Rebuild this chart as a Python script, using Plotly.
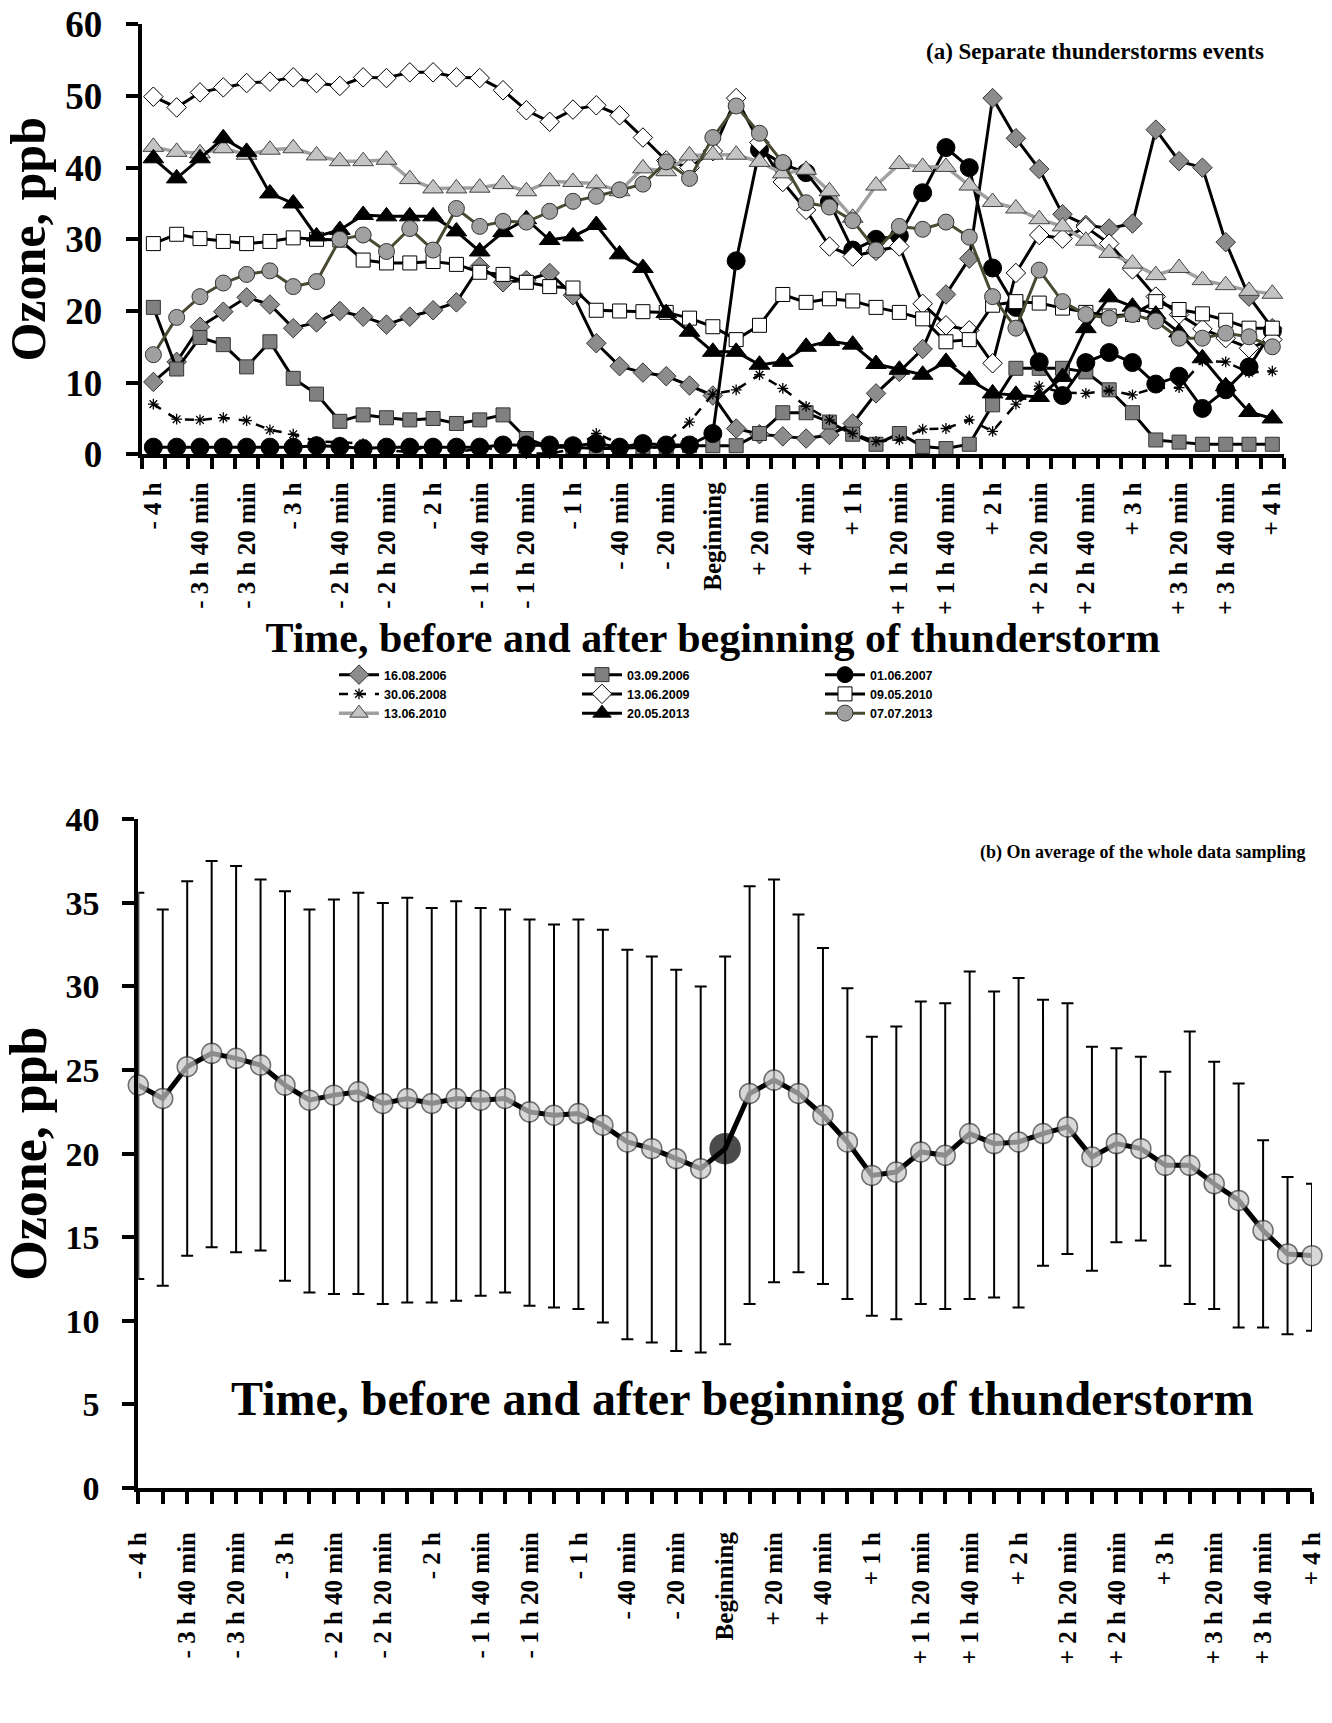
import plotly.graph_objects as go

# ---------------- data ----------------
minutes = [-240, -230, -220, -210, -200, -190, -180, -170, -160, -150, -140, -130, -120,
           -110, -100, -90, -80, -70, -60, -50, -40, -30, -20, -10, 0,
           10, 20, 30, 40, 50, 60, 70, 80, 90, 100, 110, 120, 130, 140, 150, 160,
           170, 180, 190, 200, 210, 220, 230, 240]

tick_minutes = [-240, -220, -200, -180, -160, -140, -120, -100, -80, -60, -40, -20, 0,
                20, 40, 60, 80, 100, 120, 140, 160, 180, 200, 220, 240]
tick_labels = ["- 4 h", "- 3 h 40 min", "- 3 h 20 min", "- 3 h", "- 2 h 40 min", "- 2 h 20 min",
               "- 2 h", "- 1 h 40 min", "- 1 h 20 min", "- 1 h", "- 40 min", "- 20 min",
               "Beginning", "+ 20 min", "+ 40 min", "+ 1 h", "+ 1 h 20 min", "+ 1 h 40 min",
               "+ 2 h", "+ 2 h 20 min", "+ 2 h 40 min", "+ 3 h", "+ 3 h 20 min", "+ 3 h 40 min",
               "+ 4 h"]

o3_16_08_2006 = [10.1, 12.9, 17.8, 19.9, 21.9, 20.9, 17.6, 18.4, 20.0, 19.2, 18.1, 19.2, 20.1,
                 21.2, 26.2, 24.0, 24.3, 25.3, 22.2, 15.5, 12.3, 11.4, 10.9, 9.6, 8.2,
                 3.6, 2.8, 2.5, 2.2, 2.7, 4.3, 8.5, 11.5, 14.7, 22.3, 27.3, 49.7, 44.1, 39.8,
                 33.5, 32.0, 31.5, 32.2, 45.3, 40.9, 40.0, 29.6, 22.0, 17.6]
o3_03_09_2006 = [20.5, 11.9, 16.3, 15.3, 12.2, 15.7, 10.6, 8.4, 4.6, 5.5, 5.1, 4.8, 5.0,
                 4.3, 4.8, 5.5, 2.2, 1.0, 1.0, 0.8, 0.8, 1.0, 1.0, 1.2, 1.2,
                 1.2, 2.9, 5.8, 5.8, 4.5, 2.8, 1.4, 2.9, 1.1, 0.8, 1.4, 6.9, 12.0, 12.0,
                 12.0, 11.5, 9.0, 5.8, 2.0, 1.7, 1.4, 1.4, 1.4, 1.4]
o3_01_06_2007 = [1.0, 1.0, 1.0, 1.0, 1.0, 1.0, 1.0, 1.2, 1.1, 0.8, 1.0, 1.0, 1.0,
                 1.0, 1.0, 1.3, 1.3, 1.3, 1.2, 1.5, 1.0, 1.5, 1.3, 1.3, 2.9,
                 27.0, 42.5, 40.5, 39.3, 35.2, 28.5, 30.0, 30.5, 36.5, 42.8, 40.0, 26.0, 20.5, 12.9,
                 8.2, 12.8, 14.2, 12.8, 9.8, 10.9, 6.4, 9.0, 12.2, 17.2]
o3_30_06_2008 = [7.0, 4.9, 4.8, 5.1, 4.7, 3.4, 2.8, 1.8, 1.7, 1.5, 0.6, 0.3, 1.5,
                 0.3, 0.8, 0.8, 0.1, 0.1, 0.7, 2.9, 1.5, 0.4, 1.5, 4.5, 8.4,
                 9.0, 11.1, 9.2, 6.7, 4.8, 2.9, 1.8, 2.0, 3.5, 3.6, 4.8, 3.2, 7.0, 9.5,
                 8.6, 8.5, 8.9, 8.3, 9.3, 9.3, 13.0, 12.9, 11.4, 11.6]
o3_13_06_2009 = [49.9, 48.4, 50.5, 51.2, 51.8, 52.0, 52.6, 51.8, 51.4, 52.6, 52.5, 53.3, 53.3,
                 52.6, 52.5, 50.8, 48.0, 46.4, 48.1, 48.7, 47.3, 44.2, 41.0, 40.0, 42.3,
                 49.7, 43.5, 38.0, 34.1, 29.0, 27.6, 28.4, 29.0, 21.0, 18.0, 17.3, 12.7, 25.3, 30.6,
                 30.1, 31.7, 29.4, 25.8, 22.0, 19.5, 17.5, 16.2, 14.8, 16.0]
o3_09_05_2010 = [29.4, 30.7, 30.1, 29.7, 29.4, 29.7, 30.2, 30.0, 29.9, 27.1, 26.7, 26.7, 26.9,
                 26.5, 25.4, 25.1, 24.0, 23.4, 23.2, 20.1, 20.0, 19.9, 19.8, 19.0, 17.8,
                 16.0, 18.0, 22.3, 21.2, 21.7, 21.4, 20.5, 19.8, 18.9, 15.7, 16.0, 20.8, 21.3, 21.1,
                 20.4, 19.8, 19.3, 19.5, 21.3, 20.2, 19.6, 18.7, 17.6, 17.6]
o3_13_06_2010 = [42.9, 42.2, 42.0, 42.7, 41.8, 42.5, 42.7, 41.7, 40.9, 40.9, 41.1, 38.4, 37.1,
                 37.1, 37.2, 37.7, 36.7, 38.1, 38.0, 37.8, 36.7, 39.9, 39.5, 41.7, 41.8,
                 41.8, 40.8, 39.2, 39.7, 36.7, 33.0, 37.5, 40.5, 40.1, 40.1, 37.5, 35.2, 34.3, 32.8,
                 31.8, 29.8, 28.1, 26.6, 25.0, 26.0, 24.3, 23.6, 22.8, 22.4]
o3_20_05_2013 = [41.3, 38.5, 41.3, 44.1, 42.2, 36.4, 35.0, 30.4, 31.3, 33.4, 33.2, 33.2, 33.2,
                 31.1, 28.3, 31.0, 32.8, 29.9, 30.4, 32.0, 27.9, 26.0, 19.7, 17.1, 14.3,
                 14.3, 12.5, 12.9, 15.0, 15.8, 15.3, 12.6, 11.8, 11.1, 12.9, 10.4, 8.5, 8.3, 8.0,
                 10.8, 17.6, 21.9, 20.6, 19.5, 17.0, 13.4, 9.5, 5.9, 5.0]
o3_07_07_2013 = [13.9, 19.1, 22.0, 23.9, 25.1, 25.6, 23.4, 24.1, 30.0, 30.6, 28.3, 31.5, 28.5,
                 34.3, 31.8, 32.5, 32.4, 33.9, 35.3, 36.0, 36.9, 37.7, 40.8, 38.5, 44.2,
                 48.6, 44.8, 40.7, 35.1, 34.5, 32.6, 28.5, 31.8, 31.4, 32.4, 30.3, 22.0, 17.6, 25.7,
                 21.3, 19.5, 19.0, 19.5, 18.6, 16.2, 16.2, 16.9, 16.4, 15.0]

avg_mean = [24.1, 23.3, 25.2, 26.0, 25.7, 25.3, 24.1, 23.2, 23.5, 23.7, 23.0, 23.3, 23.0,
            23.3, 23.2, 23.3, 22.5, 22.3, 22.4, 21.7, 20.7, 20.3, 19.7, 19.1, 20.3,
            23.6, 24.4, 23.6, 22.3, 20.7, 18.7, 18.9, 20.1, 19.9, 21.2, 20.6, 20.7, 21.2, 21.6,
            19.8, 20.6, 20.3, 19.3, 19.3, 18.2, 17.2, 15.4, 14.0, 13.9]
avg_upper = [35.6, 34.6, 36.3, 37.5, 37.2, 36.4, 35.7, 34.6, 35.2, 35.6, 35.0, 35.3, 34.7,
             35.1, 34.7, 34.6, 34.0, 33.7, 34.0, 33.4, 32.2, 31.8, 31.0, 30.0, 31.8,
             36.0, 36.4, 34.3, 32.3, 29.9, 27.0, 27.6, 29.1, 29.0, 30.9, 29.7, 30.5, 29.2, 29.0,
             26.4, 26.3, 25.8, 24.9, 27.3, 25.5, 24.2, 20.8, 18.6, 18.2]
avg_lower = [12.5, 12.1, 13.9, 14.4, 14.1, 14.2, 12.4, 11.7, 11.6, 11.6, 11.0, 11.1, 11.1,
             11.2, 11.5, 11.7, 10.9, 10.8, 10.7, 9.9, 8.9, 8.7, 8.2, 8.1, 8.6,
             11.0, 12.3, 12.9, 12.2, 11.3, 10.3, 10.1, 11.0, 10.7, 11.3, 11.4, 10.8, 13.3, 14.0,
             13.0, 14.7, 14.8, 13.3, 11.0, 10.7, 9.6, 9.6, 9.2, 9.4]

# ---------------- styles ----------------
SERIF = "Liberation Serif, Times New Roman, serif"
SANS = "Liberation Sans Narrow, Arial Narrow, Liberation Sans, Arial, sans-serif"

series = [
    ("16.08.2006", o3_16_08_2006, dict(symbol="diamond", size=15, color="#8c8c8c", line=dict(color="#333", width=1)), dict(color="black", width=3), "legend"),
    ("03.09.2006", o3_03_09_2006, dict(symbol="square", size=14, color="#808080", line=dict(color="#333", width=1)), dict(color="black", width=3), "legend2"),
    ("01.06.2007", o3_01_06_2007, dict(symbol="circle", size=18, color="black", line=dict(color="black", width=1)), dict(color="black", width=3), "legend3"),
    ("30.06.2008", o3_30_06_2008, dict(symbol="asterisk-open", size=9, color="black", line=dict(color="black", width=1.3)), dict(color="black", width=2.5, dash="dash"), "legend"),
    ("13.06.2009", o3_13_06_2009, dict(symbol="diamond", size=15, color="white", line=dict(color="black", width=1)), dict(color="black", width=3), "legend2"),
    ("09.05.2010", o3_09_05_2010, dict(symbol="square", size=14, color="white", line=dict(color="black", width=1)), dict(color="black", width=3), "legend3"),
    ("13.06.2010", o3_13_06_2010, dict(symbol="triangle-up", size=18, color="#c4c4c4", line=dict(color="#444", width=1)), dict(color="#a0a0a0", width=3.5), "legend"),
    ("20.05.2013", o3_20_05_2013, dict(symbol="triangle-up", size=18, color="black", line=dict(color="black", width=1)), dict(color="black", width=3), "legend2"),
    ("07.07.2013", o3_07_07_2013, dict(symbol="circle", size=16, color="#a0a0a0", line=dict(color="#333", width=1)), dict(color="#4a4a32", width=3), "legend3"),
]

fig = go.Figure()

for name, vals, mk, ln, lg in series:
    fig.add_trace(go.Scatter(
        x=minutes, y=vals, name=name, mode="lines+markers",
        marker=mk, line=ln, legend=lg, cliponaxis=False,
        xaxis="x", yaxis="y",
    ))

err_plus = [u - m for u, m in zip(avg_upper, avg_mean)]
err_minus = [m - l for m, l in zip(avg_mean, avg_lower)]
mk_colors = ["black" if t == 0 else "#c8c8c8" for t in minutes]
mk_lines = ["black" if t == 0 else "#333" for t in minutes]
mk_sizes = [30 if t == 0 else 20 for t in minutes]

fig.add_trace(go.Scatter(
    x=minutes, y=avg_mean, mode="lines+markers", showlegend=False,
    line=dict(color="black", width=5),
    marker=dict(color=mk_colors, size=mk_sizes, line=dict(color=mk_lines, width=1.5)),
    error_y=dict(type="data", symmetric=False, array=err_plus, arrayminus=err_minus,
                 color="black", thickness=2, width=6),
    cliponaxis=False, xaxis="x2", yaxis="y2",
))

W, H = 1332, 1723

def px(v):
    return v / W

def py(v):
    return 1 - v / H

top_bounds = [minutes[0] - 5 + 10 * k for k in range(len(minutes) + 1)]
lab = dict(zip(tick_minutes, tick_labels))
bot_ticktext = [lab.get(t, "") for t in minutes]

axis_common = dict(showline=True, linecolor="black", linewidth=4, showgrid=False,
                   zeroline=False, automargin=False)

fig.update_layout(
    width=W, height=H, margin=dict(l=0, r=0, t=0, b=0),
    paper_bgcolor="white", plot_bgcolor="white",
    xaxis=dict(domain=[px(141.7), px(1284)], anchor="y", range=[-245, 245],
               tickmode="array", tickvals=tick_minutes, ticktext=tick_labels,
               ticks="", tickangle=-90, ticklabelstandoff=14, ticklabeloverflow="allow",
               tickfont=dict(family=SERIF, size=25, color="black", weight="bold"),
               minor=dict(tickmode="array", tickvals=top_bounds, ticks="outside",
                          ticklen=11, tickwidth=4, tickcolor="black"),
               title=dict(text="Time, before and after beginning of thunderstorm",
                          font=dict(family=SERIF, size=42, color="black", weight="bold"),
                          standoff=4),
               **axis_common),
    yaxis=dict(domain=[py(454.3), py(24.3)], anchor="x", range=[0, 60],
               tickmode="array", tickvals=[0, 10, 20, 30, 40, 50, 60],
               ticks="outside", ticklen=12, tickwidth=4, tickcolor="black",
               ticklabelstandoff=16,
               tickfont=dict(family=SERIF, size=37, color="black", weight="bold"),
               title=dict(text="Ozone, ppb",
                          font=dict(family=SERIF, size=50, color="black", weight="bold"),
                          standoff=14),
               **axis_common),
    xaxis2=dict(domain=[px(138.3), px(1312)], anchor="y2", range=[-240, 240],
                tickmode="array", tickvals=minutes, ticktext=bot_ticktext,
                ticks="outside", ticklen=12, tickwidth=4, tickcolor="black",
                tickangle=-90, ticklabelstandoff=18, ticklabeloverflow="allow",
                tickfont=dict(family=SERIF, size=25, color="black", weight="bold"),
                **axis_common),
    yaxis2=dict(domain=[py(1488), py(819.3)], anchor="x2", range=[0, 40],
                tickmode="array", tickvals=[0, 5, 10, 15, 20, 25, 30, 35, 40],
                ticks="outside", ticklen=12, tickwidth=4, tickcolor="black",
                ticklabelstandoff=16,
                tickfont=dict(family=SERIF, size=34, color="black", weight="bold"),
                title=dict(text="Ozone, ppb",
                           font=dict(family=SERIF, size=52, color="black", weight="bold"),
                           standoff=14),
                **axis_common),
)

leg_common = dict(orientation="v", xanchor="left", yanchor="top", bgcolor="rgba(0,0,0,0)",
                  tracegroupgap=0, itemwidth=40,
                  font=dict(family=SANS, size=12.5, color="black", weight="bold"))
fig.update_layout(
    legend=dict(x=px(334), y=py(660), **leg_common),
    legend2=dict(x=px(577), y=py(660), **leg_common),
    legend3=dict(x=px(820), y=py(660), **leg_common),
)

fig.add_annotation(text="(a) Separate thunderstorms events", xref="paper", yref="paper",
                   x=px(1266), y=py(52), xanchor="right", yanchor="middle", showarrow=False,
                   font=dict(family=SERIF, size=23, color="black", weight="bold"))
fig.add_annotation(text="(b) On average of the whole data sampling", xref="paper", yref="paper",
                   x=px(1308), y=py(852), xanchor="right", yanchor="middle", showarrow=False,
                   font=dict(family=SERIF, size=18, color="black", weight="bold"))
fig.add_annotation(text="Time, before and after beginning of thunderstorm", xref="paper", yref="paper",
                   x=px(742), y=py(1398), xanchor="center", yanchor="middle", showarrow=False,
                   font=dict(family=SERIF, size=48, color="black", weight="bold"))

fig.write_html("out.html")
